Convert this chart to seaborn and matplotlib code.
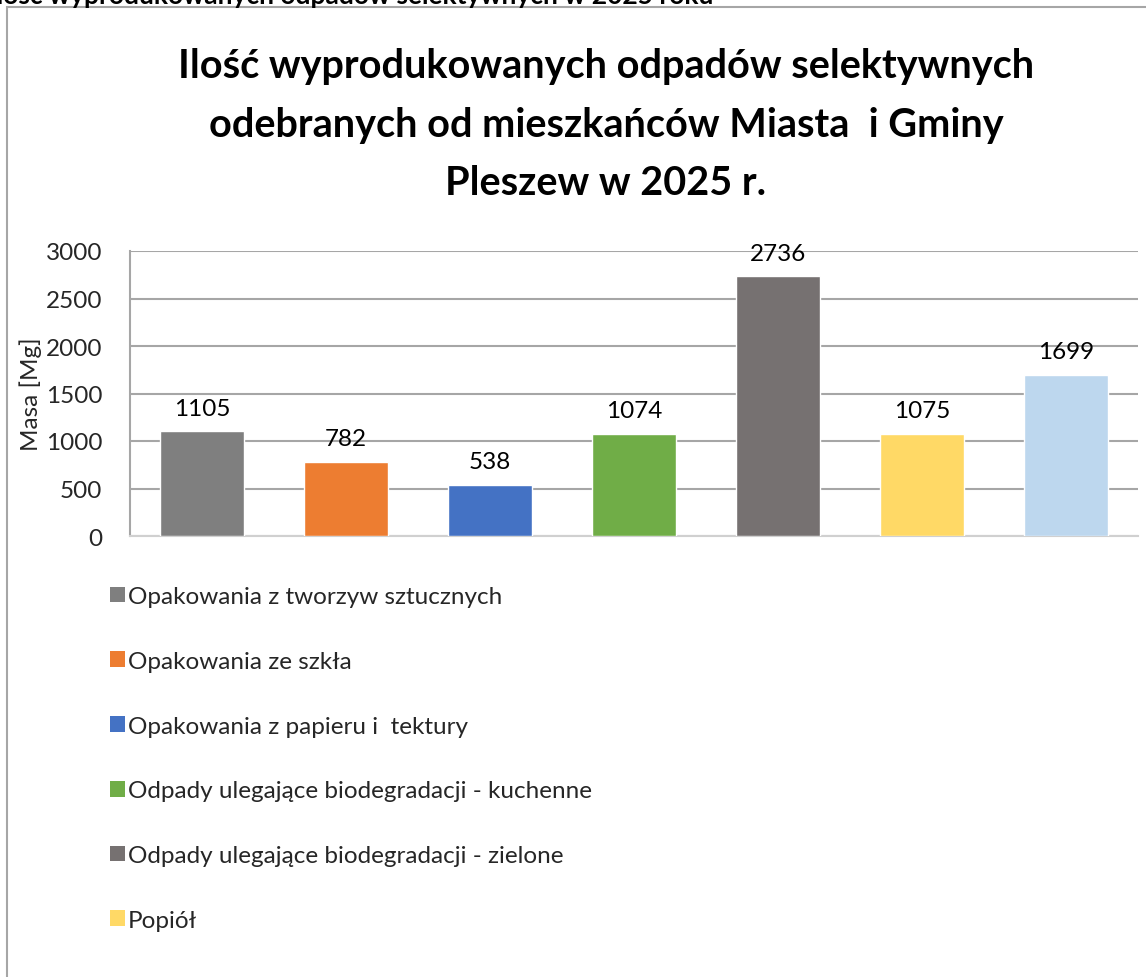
import matplotlib
matplotlib.use("Agg")
import matplotlib.pyplot as plt
import seaborn as sns
from matplotlib.patches import Rectangle, Patch

# data
categories = [
    "Opakowania z tworzyw sztucznych",
    "Opakowania ze szkła",
    "Opakowania z papieru i  tektury",
    "Odpady ulegające biodegradacji - kuchenne",
    "Odpady ulegające biodegradacji - zielone",
    "Popiół",
    "Odpady wielkogabarytowe",
]
values = [1105, 782, 538, 1074, 2736, 1075, 1699]
colors = ["#7f7f7f", "#ed7d31", "#4472c4", "#70ad47", "#767171", "#ffd966", "#bdd7ee"]
yticks = [0, 500, 1000, 1500, 2000, 2500, 3000]
n_legend_visible = 6  # the last legend entry falls below the picture in the reference

title = "Ilość wyprodukowanych odpadów selektywnych\nodebranych od mieszkańców Miasta  i Gminy\nPleszew w 2025 r."
top_caption = "Ilość wyprodukowanych odpadów selektywnych w 2025 roku"

sns.set_theme(style="white")
plt.rcParams["font.family"] = ["Lato", "DejaVu Sans"]

W, H = 1146, 978
fig = plt.figure(figsize=(W / 100, H / 100), dpi=100)

# outer chart frame, partly cut by the image edge
fig.patches.append(Rectangle((7 / W, -0.05), 1.2, 1 - 8 / H + 0.05, transform=fig.transFigure,
                             fill=False, edgecolor="#a6a6a6", linewidth=1.5))

# cropped caption above the frame
fig.text(713 / W, 1 - 4 / H, top_caption, ha="right", va="baseline",
         fontsize=19, fontweight="bold", color="black")

ax = fig.add_axes([130 / W, 1 - 537 / H, (1138 - 130) / W, (537 - 252) / H])

sns.barplot(x=categories, y=values, hue=categories, palette=colors, width=0.58,
            dodge=False, legend=False, saturation=1, ax=ax, zorder=3)

ax.set_ylim(0, 3000)
ax.set_xlim(-0.5, len(categories) - 0.5)
ax.set_yticks(yticks)
ax.set_yticklabels([str(t) for t in yticks], fontsize=17.5)
ax.set_xticks([])
ax.set_xlabel("")
ax.set_ylabel("Masa [Mg]", fontsize=17.5)
ax.yaxis.set_label_coords(-0.087, 0.5)
ax.tick_params(axis="y", length=0, pad=20)
ax.grid(axis="y", color="#a6a6a6", linewidth=1.5, zorder=0)
ax.set_axisbelow(True)
for side in ["top", "right"]:
    ax.spines[side].set_visible(False)
ax.spines["left"].set_color("#a6a6a6")
ax.spines["left"].set_linewidth(1.5)
ax.spines["bottom"].set_color("#d0d0d0")
ax.spines["bottom"].set_linewidth(1.5)

for i, v in enumerate(values):
    ax.annotate(str(v), (i, v), xytext=(0, 9), textcoords="offset points",
                ha="center", va="bottom", fontsize=17.5, color="black")

fig.text(606 / W, 1 - 48 / H, title, ha="center", va="top", fontsize=28.5,
         fontweight="bold", linespacing=1.72, color="black")

handles = [Patch(facecolor=c, edgecolor="none") for c in colors]
fig.legend(handles[:n_legend_visible], categories[:n_legend_visible], loc="upper left",
           bbox_to_anchor=(110 / W, 1 - 587 / H),
           frameon=False, fontsize=17.5, handlelength=0.62, handleheight=0.62,
           handletextpad=0.12, labelspacing=1.8, borderaxespad=0, borderpad=0)

fig.savefig("out.png", dpi=100)
